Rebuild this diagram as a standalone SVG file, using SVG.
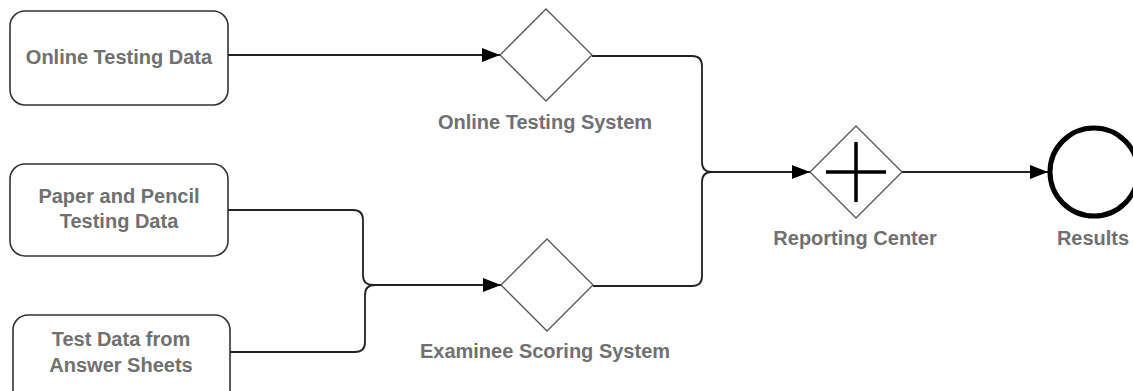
<svg xmlns="http://www.w3.org/2000/svg" width="1133" height="391" viewBox="0 0 1133 391">
<style>
.box{fill:#fff;stroke:#333;stroke-width:1.6}
.gw{fill:#fff;stroke:#555;stroke-width:1.3}
.lbl{font-family:"Liberation Sans",Arial,sans-serif;font-weight:bold;font-size:20px;fill:#707070;text-anchor:middle}
.edge{fill:none;stroke:#222;stroke-width:1.8}
</style>
<defs>
<marker id="arr" markerUnits="userSpaceOnUse" markerWidth="18" markerHeight="14" refX="18" refY="7" orient="auto">
<path d="M0,0 L18,7 L0,14 z" fill="#000"/>
</marker>
</defs>
<rect width="1133" height="391" fill="#fff"/>
<g id="connectors">
<path class="edge" d="M228,55 H500" marker-end="url(#arr)"/>
<path class="edge" d="M228,210 H353 Q363,210 363,220 V275 Q363,285 373,285 H501" marker-end="url(#arr)"/>
<path class="edge" d="M230,352 H355 Q365,352 365,342 V295 Q365,285 375,285"/>
<path class="edge" d="M592,56 H692 Q702,56 702,66 V162 Q702,172 712,172 H810" marker-end="url(#arr)"/>
<path class="edge" d="M593,286 H692 Q702,286 702,276 V182 Q702,172 712,172"/>
<path class="edge" d="M902,172 H1048" marker-end="url(#arr)"/>
</g>
<g id="online-testing-data">
<rect class="box" x="10" y="11" width="218" height="94" rx="15"/>
<text class="lbl" x="119" y="64">Online Testing Data</text>
</g>
<g id="paper-pencil">
<rect class="box" x="10" y="164" width="218" height="92" rx="15"/>
<text class="lbl" x="119" y="203">Paper and Pencil</text>
<text class="lbl" x="119" y="228">Testing Data</text>
</g>
<g id="answer-sheets">
<rect class="box" x="13" y="315" width="217" height="94" rx="15"/>
<text class="lbl" x="121" y="346">Test Data from</text>
<text class="lbl" x="121" y="372">Answer Sheets</text>
</g>
<g id="online-testing-system">
<polygon class="gw" points="546,9 592,55 546,101 500,55"/>
<text class="lbl" x="545" y="129">Online Testing System</text>
</g>
<g id="examinee-scoring-system">
<polygon class="gw" points="547,239 593,285 547,331 501,285"/>
<text class="lbl" x="545" y="358">Examinee Scoring System</text>
</g>
<g id="reporting-center">
<polygon class="gw" points="856,126 902,172 856,218 810,172"/>
<path d="M826,172 H886 M856,142 V202" stroke="#000" stroke-width="3.5" fill="none"/>
<text class="lbl" x="855" y="245">Reporting Center</text>
</g>
<g id="results">
<circle cx="1094" cy="172" r="44" fill="#fff" stroke="#000" stroke-width="5"/>
<text class="lbl" x="1093" y="245">Results</text>
</g>
</svg>
